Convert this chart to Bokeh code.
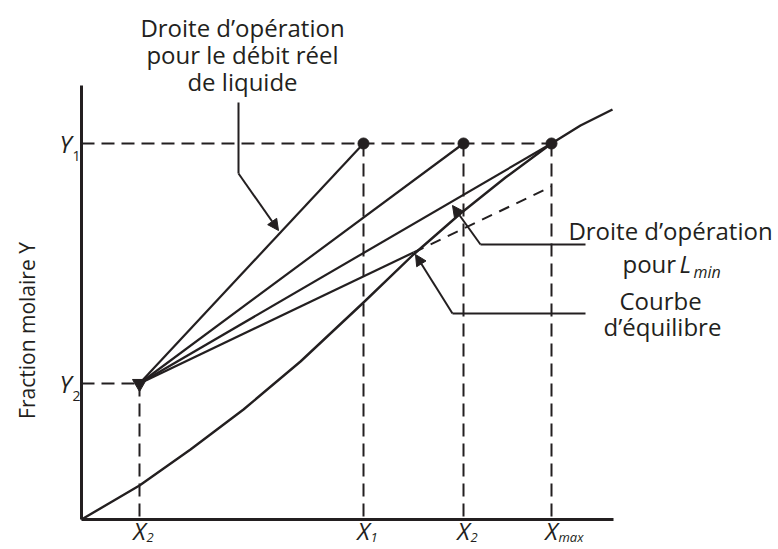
import math
from bokeh.plotting import figure
from bokeh.models import Arrow, NormalHead, Range1d
from bokeh.embed import file_html
from bokeh.resources import INLINE
from bokeh.core.properties import value

# ---------------- data (arbitrary mole-ratio units) ----------------
# abscissa marks: X2 (inlet liquid), X1 (actual outlet), X2' (intermediate), Xmax
x_mark_names = ["X2", "X1", "X2b", "Xmax"]
x_marks = [0.58, 2.82, 3.82, 4.70]
x_main_labels = ["X", "X", "X", "X"]
x_sub_labels = ["2", "1", "2", "max"]
# ordinate marks: Y1 (inlet gas), Y2 (outlet gas)
y_marks = [3.76, 1.36]
y_main_labels = ["Y", "Y"]
y_sub_labels = ["1", "2"]

# equilibrium curve
eq_x = [0.00, 0.29, 0.58, 1.09, 1.62, 2.19, 2.82, 3.32, 3.79, 4.24, 4.70, 4.99, 5.31]
eq_y = [0.00, 0.17, 0.34, 0.70, 1.10, 1.58, 2.17, 2.65, 3.06, 3.42, 3.76, 3.94, 4.10]

# operating lines from (X2, Y2) to their top ends at Y1
op_top_x = [2.82, 3.82, 4.70]
op_top_y = [3.76, 3.76, 3.76]
# lowest operating line: solid up to the equilibrium curve, then dashed
low_break_x = 3.32
low_end_x = 4.70
low_end_y = 3.33

# axes extents
x_axis_end = 5.32
y_axis_end = 4.34

INK = "#231f20"
FONT = value("Open Sans")
BIG = "24px"

# ---------------- figure ----------------
p = figure(width=778, height=549, output_backend="svg", toolbar_location=None,
           x_range=Range1d(-0.81, 6.97), y_range=Range1d(-0.30, 5.19),
           min_border=0, min_border_left=0, min_border_right=0,
           min_border_top=0, min_border_bottom=0)
p.axis.visible = False
p.grid.visible = False
p.outline_line_color = None
p.background_fill_color = "white"
p.border_fill_color = "white"

x0, y0 = x_marks[0], y_marks[1]
y1 = y_marks[0]

# axes lines
p.line([0, 0], [0, y_axis_end], line_color=INK, line_width=3)
p.line([0, x_axis_end], [0, 0], line_color=INK, line_width=3)

dash = "13 7"
# dashed guides
p.line([0, x_marks[3]], [y1, y1], line_color=INK, line_width=2, line_dash=dash)
p.line([0, x0], [y0, y0], line_color=INK, line_width=2, line_dash=dash)
p.line([x0, x0], [y0, 0], line_color=INK, line_width=2, line_dash=dash)
for xm in x_marks[1:]:
    p.line([xm, xm], [y1, 0], line_color=INK, line_width=2, line_dash=dash)

# equilibrium curve
p.line(eq_x, eq_y, line_color=INK, line_width=2.4, line_join="round")

# operating lines
for xt, yt in zip(op_top_x, op_top_y):
    p.line([x0, xt], [y0, yt], line_color=INK, line_width=2.2)
slope = (low_end_y - y0) / (low_end_x - x0)
yb = y0 + slope * (low_break_x - x0)
p.line([x0, low_break_x], [y0, yb], line_color=INK, line_width=2.2)
p.line([low_break_x, low_end_x], [yb, low_end_y], line_color=INK, line_width=2, line_dash="11 8")

# points
p.scatter(x_marks[1:], [y1] * 3, size=11, color=INK)
p.scatter([x0], [y0], marker="inverted_triangle", size=14, color=INK)

# ---------------- leaders ----------------
def head():
    return NormalHead(size=11, fill_color=INK, line_color=INK, line_width=1)

# actual operating line leader
p.line([1.57, 1.57], [4.17, 3.46], line_color=INK, line_width=2)
p.add_layout(Arrow(end=head(), x_start=1.57, y_start=3.46, x_end=1.97, y_end=2.89,
                   line_color=INK, line_width=2))
# Lmin leader
p.line([5.04, 3.99], [2.75, 2.75], line_color=INK, line_width=2)
p.add_layout(Arrow(end=head(), x_start=3.99, y_start=2.75, x_end=3.71, y_end=3.14,
                   line_color=INK, line_width=2))
# equilibrium curve leader
p.line([5.04, 3.71], [2.06, 2.06], line_color=INK, line_width=2)
p.add_layout(Arrow(end=head(), x_start=3.71, y_start=2.06, x_end=3.34, y_end=2.65,
                   line_color=INK, line_width=2))

# ---------------- texts ----------------
common = dict(text_font=FONT, text_color=INK, text_baseline="middle")

p.text(x=[1.61, 1.61, 1.61], y=[4.92, 4.655, 4.38],
       text=["Droite d\u2019opération", "pour le débit réel", "de liquide"],
       text_font_size=BIG, text_align="center", **common)

p.text(x=[5.89], y=[2.89], text=["Droite d\u2019opération"],
       text_font_size=BIG, text_align="center", **common)
p.text(x=[5.41], y=[2.56], text=["pour"], text_font_size=BIG, text_align="left", **common)
p.text(x=[5.98], y=[2.56], text=["L"], text_font_size=BIG, text_align="left",
       text_font_style="italic", **common)
p.text(x=[6.12], y=[2.48], text=["min"], text_font_size="16px", text_align="left",
       text_font_style="italic", **common)
p.text(x=[5.79, 5.81], y=[2.19, 1.93], text=["Courbe", "d\u2019équilibre"],
       text_font_size=BIG, text_align="center", **common)

# y-axis title
p.text(x=[-0.55], y=[1.89], text=["Fraction molaire Y"], angle=math.pi / 2,
       text_font_size="21px", text_align="center", **common)

# Y tick labels
p.text(x=[-0.16] * 2, y=y_marks, text=y_main_labels, text_font_size=BIG,
       text_align="center", text_font_style="italic", **common)
p.text(x=[-0.05] * 2, y=[ym - 0.12 for ym in y_marks], text=y_sub_labels,
       text_font_size="14px", text_align="center", **common)

# X tick labels
p.text(x=x_marks, y=[-0.11] * 4, text=x_main_labels, text_font_size=BIG,
       text_align="center", text_font_style="italic", **common)
p.text(x=[xm + 0.07 for xm in x_marks], y=[-0.175] * 4, text=x_sub_labels,
       text_font_size="13px", text_align="left", text_font_style="italic", **common)

open("out.html", "w").write(file_html(p, INLINE))
